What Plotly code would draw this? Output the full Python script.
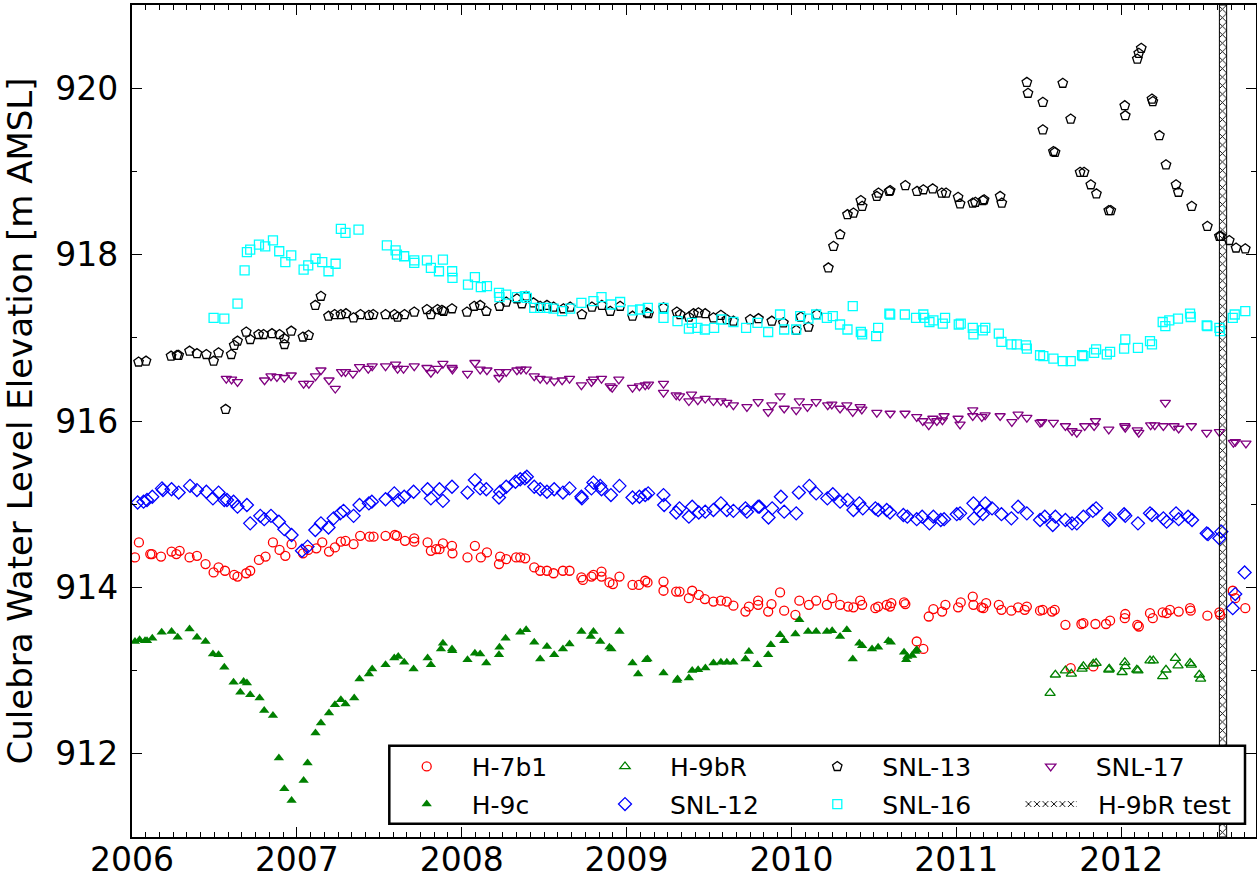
import plotly.graph_objects as go

# Culebra water levels, (decimal year, elevation m AMSL)
H7B1 = [
    (2006.018, 914.36), (2006.042, 914.54), (2006.111, 914.40), (2006.121, 914.40), (2006.176, 914.37),
    (2006.240, 914.43), (2006.269, 914.40), (2006.289, 914.44), (2006.349, 914.36), (2006.394, 914.38),
    (2006.446, 914.28), (2006.495, 914.18), (2006.525, 914.24), (2006.564, 914.20), (2006.620, 914.15),
    (2006.640, 914.13), (2006.693, 914.17), (2006.717, 914.20), (2006.770, 914.33), (2006.810, 914.37),
    (2006.855, 914.54), (2006.895, 914.45), (2006.930, 914.38), (2006.968, 914.52), (2007.037, 914.41),
    (2007.069, 914.45), (2007.118, 914.47), (2007.154, 914.54), (2007.195, 914.43), (2007.231, 914.48),
    (2007.267, 914.55), (2007.295, 914.56), (2007.344, 914.52), (2007.384, 914.62), (2007.441, 914.61),
    (2007.465, 914.61), (2007.538, 914.62), (2007.595, 914.63), (2007.607, 914.62), (2007.656, 914.56),
    (2007.712, 914.59), (2007.712, 914.55), (2007.793, 914.54), (2007.813, 914.44), (2007.845, 914.46),
    (2007.865, 914.46), (2007.886, 914.53), (2007.941, 914.50), (2007.944, 914.41), (2008.035, 914.36),
    (2008.080, 914.50), (2008.116, 914.36), (2008.153, 914.42), (2008.226, 914.28), (2008.233, 914.37),
    (2008.270, 914.34), (2008.330, 914.36), (2008.355, 914.36), (2008.385, 914.35), (2008.440, 914.24),
    (2008.476, 914.20), (2008.517, 914.20), (2008.557, 914.17), (2008.614, 914.20), (2008.654, 914.20),
    (2008.726, 914.12), (2008.735, 914.09), (2008.787, 914.13), (2008.799, 914.15), (2008.848, 914.19),
    (2008.848, 914.13), (2008.896, 914.06), (2008.917, 914.04), (2008.957, 914.13), (2009.036, 914.03),
    (2009.075, 914.03), (2009.113, 914.08), (2009.127, 914.06), (2009.224, 914.07), (2009.224, 913.96),
    (2009.301, 913.95), (2009.321, 913.95), (2009.398, 913.96), (2009.378, 913.87), (2009.438, 913.91),
    (2009.475, 913.86), (2009.527, 913.83), (2009.572, 913.84), (2009.608, 913.83), (2009.648, 913.78),
    (2009.721, 913.71), (2009.742, 913.77), (2009.798, 913.84), (2009.798, 913.79), (2009.859, 913.71),
    (2009.879, 913.80), (2009.931, 913.94), (2009.956, 913.72), (2010.024, 913.67), (2010.048, 913.84),
    (2010.106, 913.79), (2010.150, 913.84), (2010.215, 913.79), (2010.247, 913.87), (2010.295, 913.79),
    (2010.344, 913.77), (2010.376, 913.76), (2010.417, 913.84), (2010.429, 913.79), (2010.509, 913.75),
    (2010.526, 913.77), (2010.578, 913.79), (2010.598, 913.77), (2010.606, 913.81), (2010.683, 913.82),
    (2010.691, 913.80), (2010.760, 913.35), (2010.800, 913.26), (2010.833, 913.65), (2010.861, 913.74),
    (2010.914, 913.71), (2010.934, 913.79), (2011.011, 913.76), (2011.027, 913.82), (2011.100, 913.89),
    (2011.104, 913.79), (2011.152, 913.76), (2011.181, 913.81), (2011.164, 913.75), (2011.258, 913.79),
    (2011.274, 913.73), (2011.334, 913.72), (2011.375, 913.76), (2011.415, 913.73), (2011.428, 913.77),
    (2011.508, 913.72), (2011.524, 913.73), (2011.581, 913.71), (2011.597, 913.73), (2011.662, 913.55),
    (2011.694, 913.03), (2011.759, 913.56), (2011.771, 913.57), (2011.831, 913.05), (2011.844, 913.56),
    (2011.908, 913.56), (2011.933, 913.60), (2012.025, 913.68), (2012.022, 913.63), (2012.098, 913.55),
    (2012.107, 913.53), (2012.175, 913.69), (2012.192, 913.63), (2012.252, 913.70), (2012.276, 913.69),
    (2012.296, 913.73), (2012.349, 913.71), (2012.418, 913.75), (2012.422, 913.72), (2012.523, 913.66),
    (2012.596, 913.70), (2012.600, 913.67), (2012.677, 913.96), (2012.692, 913.87), (2012.753, 913.75),
]

H9C = [
    (2006.018, 913.35), (2006.046, 913.37), (2006.079, 913.36), (2006.091, 913.36), (2006.123, 913.39),
    (2006.180, 913.46), (2006.240, 913.47), (2006.277, 913.40), (2006.349, 913.50), (2006.394, 913.40),
    (2006.446, 913.35), (2006.491, 913.20), (2006.525, 913.19), (2006.560, 913.04), (2006.616, 912.86),
    (2006.657, 912.74), (2006.677, 912.87), (2006.697, 912.85), (2006.717, 912.71), (2006.774, 912.67),
    (2006.802, 912.52), (2006.855, 912.46), (2006.891, 911.95), (2006.924, 911.58), (2006.968, 911.44),
    (2007.041, 911.68), (2007.065, 911.89), (2007.113, 912.25), (2007.146, 912.37), (2007.195, 912.49),
    (2007.231, 912.59), (2007.267, 912.65), (2007.295, 912.60), (2007.348, 912.67), (2007.380, 912.90),
    (2007.437, 912.96), (2007.457, 913.02), (2007.538, 913.07), (2007.591, 913.15), (2007.615, 913.17),
    (2007.651, 913.10), (2007.708, 913.02), (2007.793, 913.15), (2007.813, 913.07), (2007.874, 913.26),
    (2007.886, 913.33), (2007.941, 913.26), (2007.943, 913.24), (2008.035, 913.13), (2008.080, 913.21),
    (2008.112, 913.20), (2008.149, 913.09), (2008.226, 913.19), (2008.229, 913.28), (2008.266, 913.39),
    (2008.355, 913.46), (2008.391, 913.49), (2008.440, 913.34), (2008.476, 913.14), (2008.517, 913.29),
    (2008.561, 913.19), (2008.614, 913.26), (2008.654, 913.32), (2008.726, 913.47), (2008.783, 913.41),
    (2008.799, 913.47), (2008.840, 913.35), (2008.896, 913.28), (2008.908, 913.26), (2008.957, 913.47),
    (2009.036, 913.09), (2009.070, 912.96), (2009.119, 913.13), (2009.127, 913.14), (2009.224, 912.97),
    (2009.305, 912.88), (2009.309, 912.90), (2009.378, 912.91), (2009.398, 913.00), (2009.434, 913.01),
    (2009.478, 913.03), (2009.527, 913.09), (2009.572, 913.10), (2009.608, 913.10), (2009.648, 913.10),
    (2009.721, 913.14), (2009.742, 913.23), (2009.794, 913.07), (2009.859, 913.19), (2009.875, 913.31),
    (2009.931, 913.43), (2009.956, 913.36), (2010.024, 913.44), (2010.048, 913.61), (2010.101, 913.47),
    (2010.150, 913.47), (2010.215, 913.47), (2010.247, 913.48), (2010.295, 913.41), (2010.336, 913.49),
    (2010.372, 913.14), (2010.412, 913.33), (2010.429, 913.30), (2010.489, 913.26), (2010.526, 913.28),
    (2010.588, 913.36), (2010.603, 913.34), (2010.683, 913.22), (2010.696, 913.13), (2010.703, 913.17),
    (2010.732, 913.18), (2010.752, 913.23), (2010.760, 913.25),
]

H9BR = [
    (2011.569, 912.73), (2011.601, 912.95), (2011.662, 913.00), (2011.698, 912.96), (2011.763, 913.02),
    (2011.771, 913.05), (2011.831, 913.08), (2011.848, 913.09), (2011.925, 913.01), (2011.928, 913.02),
    (2012.006, 912.98), (2012.022, 913.10), (2012.025, 913.05), (2012.095, 913.01), (2012.102, 913.00),
    (2012.175, 913.12), (2012.195, 913.12), (2012.252, 912.93), (2012.272, 913.01), (2012.329, 913.15),
    (2012.345, 913.06), (2012.418, 913.09), (2012.426, 913.07), (2012.474, 912.95), (2012.482, 912.90),
]

SNL12 = [
    (2006.034, 915.02), (2006.070, 915.03), (2006.091, 915.05), (2006.123, 915.09), (2006.182, 915.19),
    (2006.188, 915.17), (2006.240, 915.18), (2006.283, 915.14), (2006.352, 915.22), (2006.394, 915.17),
    (2006.451, 915.15), (2006.491, 915.07), (2006.525, 915.14), (2006.560, 915.05), (2006.576, 915.05),
    (2006.616, 915.03), (2006.640, 914.97), (2006.697, 914.99), (2006.717, 914.77), (2006.778, 914.86),
    (2006.802, 914.82), (2006.843, 914.86), (2006.891, 914.79), (2006.924, 914.70), (2006.968, 914.63),
    (2007.031, 914.44), (2007.065, 914.49), (2007.112, 914.69), (2007.146, 914.77), (2007.192, 914.72),
    (2007.223, 914.83), (2007.263, 914.89), (2007.283, 914.92), (2007.344, 914.86), (2007.380, 914.99),
    (2007.437, 915.01), (2007.455, 915.03), (2007.538, 915.06), (2007.591, 915.13), (2007.615, 915.05),
    (2007.651, 915.09), (2007.708, 915.15), (2007.793, 915.18), (2007.813, 915.07), (2007.865, 915.18),
    (2007.886, 915.04), (2007.941, 915.21), (2008.035, 915.14), (2008.080, 915.29), (2008.112, 915.19),
    (2008.149, 915.18), (2008.226, 915.08), (2008.233, 915.15), (2008.270, 915.21), (2008.326, 915.27),
    (2008.355, 915.30), (2008.383, 915.31), (2008.395, 915.33), (2008.440, 915.21), (2008.476, 915.18),
    (2008.517, 915.15), (2008.561, 915.18), (2008.614, 915.14), (2008.654, 915.19), (2008.726, 915.09),
    (2008.729, 915.07), (2008.787, 915.19), (2008.799, 915.26), (2008.840, 915.22), (2008.848, 915.18),
    (2008.905, 915.11), (2008.957, 915.22), (2009.036, 915.08), (2009.078, 915.09), (2009.113, 915.11),
    (2009.131, 915.13), (2009.224, 915.11), (2009.228, 914.99), (2009.301, 914.90), (2009.321, 914.95),
    (2009.378, 914.85), (2009.398, 914.97), (2009.438, 914.90), (2009.477, 914.91), (2009.527, 914.93),
    (2009.572, 915.01), (2009.608, 914.93), (2009.648, 914.92), (2009.721, 914.95), (2009.730, 914.91),
    (2009.798, 914.97), (2009.806, 914.97), (2009.861, 914.84), (2009.883, 914.95), (2009.936, 915.09),
    (2009.956, 914.91), (2010.029, 914.89), (2010.045, 915.14), (2010.109, 915.22), (2010.150, 915.13),
    (2010.218, 915.07), (2010.251, 915.12), (2010.295, 915.03), (2010.340, 915.05), (2010.376, 914.93),
    (2010.412, 915.01), (2010.433, 914.95), (2010.509, 914.95), (2010.526, 914.93), (2010.578, 914.93),
    (2010.598, 914.90), (2010.679, 914.87), (2010.703, 914.85), (2010.760, 914.82), (2010.793, 914.85),
    (2010.837, 914.77), (2010.861, 914.85), (2010.906, 914.81), (2010.926, 914.82), (2011.003, 914.88),
    (2011.023, 914.89), (2011.104, 915.01), (2011.108, 914.83), (2011.144, 914.92), (2011.176, 915.01),
    (2011.161, 914.88), (2011.217, 914.95), (2011.274, 914.88), (2011.334, 914.83), (2011.375, 914.97),
    (2011.428, 914.89), (2011.508, 914.81), (2011.537, 914.85), (2011.585, 914.75), (2011.601, 914.85),
    (2011.662, 914.81), (2011.702, 914.77), (2011.731, 914.77), (2011.771, 914.85), (2011.828, 914.92),
    (2011.848, 914.95), (2011.925, 914.81), (2011.933, 914.83), (2012.018, 914.88), (2012.025, 914.86),
    (2012.102, 914.77), (2012.175, 914.89), (2012.187, 914.87), (2012.256, 914.83), (2012.276, 914.79),
    (2012.333, 914.89), (2012.349, 914.82), (2012.406, 914.85), (2012.430, 914.81), (2012.519, 914.65),
    (2012.527, 914.64), (2012.596, 914.59), (2012.608, 914.67), (2012.677, 913.75), (2012.692, 913.92),
    (2012.749, 914.18),
]

SNL13 = [
    (2006.040, 916.71), (2006.085, 916.72), (2006.237, 916.78), (2006.273, 916.79), (2006.283, 916.79),
    (2006.349, 916.84), (2006.394, 916.81), (2006.451, 916.80), (2006.495, 916.72), (2006.525, 916.82),
    (2006.568, 916.14), (2006.602, 916.80), (2006.620, 916.91), (2006.640, 916.96), (2006.693, 917.07),
    (2006.717, 916.98), (2006.768, 917.04), (2006.798, 917.04), (2006.849, 917.05), (2006.895, 917.04),
    (2006.924, 916.99), (2006.925, 916.92), (2006.966, 917.08), (2007.037, 917.01), (2007.071, 917.03),
    (2007.112, 917.39), (2007.146, 917.50), (2007.192, 917.26), (2007.229, 917.28), (2007.267, 917.28),
    (2007.298, 917.29), (2007.344, 917.24), (2007.386, 917.28), (2007.437, 917.27), (2007.463, 917.28),
    (2007.538, 917.28), (2007.592, 917.28), (2007.611, 917.25), (2007.653, 917.28), (2007.712, 917.31),
    (2007.789, 917.34), (2007.813, 917.28), (2007.853, 917.34), (2007.880, 917.33), (2007.890, 917.32),
    (2007.941, 917.35), (2008.032, 917.31), (2008.076, 917.38), (2008.112, 917.39), (2008.149, 917.32),
    (2008.229, 917.38), (2008.270, 917.43), (2008.335, 917.47), (2008.365, 917.41), (2008.391, 917.50),
    (2008.435, 917.42), (2008.476, 917.38), (2008.517, 917.39), (2008.557, 917.37), (2008.617, 917.35),
    (2008.658, 917.37), (2008.729, 917.28), (2008.790, 917.37), (2008.850, 917.39), (2008.901, 917.32),
    (2008.961, 917.38), (2009.036, 917.26), (2009.123, 917.30), (2009.133, 917.29), (2009.224, 917.36),
    (2009.305, 917.31), (2009.325, 917.28), (2009.378, 917.25), (2009.406, 917.29), (2009.436, 917.30),
    (2009.477, 917.29), (2009.527, 917.24), (2009.572, 917.27), (2009.608, 917.22), (2009.648, 917.20),
    (2009.750, 917.22), (2009.800, 917.23), (2009.881, 917.20), (2009.951, 917.18), (2010.029, 917.09),
    (2010.057, 917.25), (2010.103, 917.13), (2010.154, 917.28), (2010.224, 917.84), (2010.255, 918.10),
    (2010.295, 918.24), (2010.340, 918.48), (2010.376, 918.50), (2010.421, 918.65), (2010.429, 918.58),
    (2010.518, 918.70), (2010.528, 918.74), (2010.593, 918.76), (2010.599, 918.77), (2010.691, 918.83),
    (2010.762, 918.76), (2010.800, 918.78), (2010.857, 918.79), (2010.912, 918.74), (2010.938, 918.74),
    (2011.011, 918.69), (2011.023, 918.61), (2011.100, 918.62), (2011.116, 918.63), (2011.161, 918.65),
    (2011.169, 918.66), (2011.266, 918.70), (2011.276, 918.62), (2011.428, 920.07), (2011.435, 919.94),
    (2011.525, 919.83), (2011.525, 919.50), (2011.589, 919.24), (2011.599, 919.23), (2011.646, 920.06),
    (2011.694, 919.63), (2011.751, 918.99), (2011.775, 918.99), (2011.816, 918.84), (2011.850, 918.73),
    (2011.925, 918.53), (2011.937, 918.53), (2012.022, 919.79), (2012.025, 919.67), (2012.098, 920.35),
    (2012.107, 920.42), (2012.122, 920.48), (2012.187, 919.87), (2012.192, 919.84), (2012.232, 919.43),
    (2012.272, 919.08), (2012.333, 918.84), (2012.347, 918.75), (2012.428, 918.58), (2012.523, 918.34),
    (2012.596, 918.22), (2012.604, 918.22), (2012.656, 918.17), (2012.697, 918.08), (2012.753, 918.07),
]

SNL16 = [
    (2006.495, 917.24), (2006.560, 917.23), (2006.640, 917.41), (2006.683, 917.81), (2006.697, 918.03),
    (2006.717, 918.06), (2006.770, 918.12), (2006.808, 918.10), (2006.855, 918.17), (2006.893, 918.04),
    (2006.930, 917.91), (2006.966, 917.99), (2007.041, 917.82), (2007.069, 917.87), (2007.113, 917.95),
    (2007.154, 917.91), (2007.192, 917.80), (2007.235, 917.89), (2007.267, 918.31), (2007.295, 918.26),
    (2007.374, 918.30), (2007.546, 918.11), (2007.599, 918.05), (2007.607, 918.00), (2007.651, 917.98),
    (2007.712, 917.93), (2007.712, 917.90), (2007.789, 917.93), (2007.813, 917.84), (2007.862, 917.80),
    (2007.886, 917.94), (2007.942, 917.80), (2007.944, 917.72), (2008.038, 917.64), (2008.080, 917.73),
    (2008.116, 917.61), (2008.153, 917.62), (2008.226, 917.54), (2008.229, 917.49), (2008.270, 917.52),
    (2008.335, 917.49), (2008.383, 917.50), (2008.395, 917.48), (2008.440, 917.36), (2008.476, 917.36),
    (2008.517, 917.36), (2008.557, 917.35), (2008.609, 917.32), (2008.658, 917.35), (2008.726, 917.42),
    (2008.799, 917.44), (2008.848, 917.49), (2008.907, 917.40), (2008.961, 917.43), (2009.036, 917.33),
    (2009.082, 917.34), (2009.129, 917.36), (2009.224, 917.36), (2009.224, 917.24), (2009.309, 917.20),
    (2009.378, 917.11), (2009.396, 917.18), (2009.430, 917.12), (2009.475, 917.10), (2009.531, 917.12),
    (2009.575, 917.22), (2009.648, 917.19), (2009.725, 917.12), (2009.794, 917.18), (2009.859, 917.07),
    (2009.931, 917.28), (2009.956, 917.10), (2010.029, 917.10), (2010.053, 917.26), (2010.103, 917.23),
    (2010.150, 917.28), (2010.215, 917.24), (2010.251, 917.26), (2010.295, 917.16), (2010.340, 917.10),
    (2010.372, 917.38), (2010.421, 917.07), (2010.429, 917.04), (2010.514, 917.02), (2010.526, 917.12),
    (2010.594, 917.29), (2010.599, 917.28), (2010.688, 917.28), (2010.756, 917.24), (2010.800, 917.28),
    (2010.805, 917.24), (2010.837, 917.19), (2010.861, 917.21), (2010.918, 917.17), (2010.932, 917.24),
    (2011.015, 917.16), (2011.027, 917.17), (2011.100, 917.12), (2011.104, 917.04), (2011.161, 917.09),
    (2011.176, 917.12), (2011.258, 917.05), (2011.274, 916.95), (2011.334, 916.92), (2011.367, 916.92),
    (2011.423, 916.91), (2011.428, 916.87), (2011.508, 916.79), (2011.528, 916.78), (2011.589, 916.75),
    (2011.646, 916.72), (2011.694, 916.72), (2011.763, 916.79), (2011.771, 916.78), (2011.836, 916.82),
    (2011.848, 916.86), (2011.913, 916.80), (2011.933, 916.83), (2012.018, 916.87), (2012.025, 916.98),
    (2012.102, 916.88), (2012.175, 916.96), (2012.187, 916.92), (2012.252, 917.19), (2012.268, 917.14),
    (2012.292, 917.21), (2012.345, 917.23), (2012.418, 917.29), (2012.422, 917.25), (2012.519, 917.15),
    (2012.523, 917.14), (2012.596, 917.12), (2012.600, 917.08), (2012.677, 917.24), (2012.689, 917.28),
    (2012.753, 917.32),
]

SNL17 = [
    (2006.572, 916.51), (2006.604, 916.50), (2006.640, 916.47), (2006.804, 916.49), (2006.843, 916.54),
    (2006.879, 916.53), (2006.924, 916.52), (2006.966, 916.55), (2007.041, 916.45), (2007.073, 916.45),
    (2007.113, 916.54), (2007.146, 916.61), (2007.195, 916.49), (2007.233, 916.39), (2007.271, 916.59),
    (2007.295, 916.59), (2007.340, 916.57), (2007.380, 916.65), (2007.433, 916.63), (2007.457, 916.66),
    (2007.538, 916.66), (2007.599, 916.68), (2007.611, 916.63), (2007.647, 916.63), (2007.712, 916.66),
    (2007.789, 916.64), (2007.813, 916.58), (2007.853, 916.63), (2007.886, 916.69), (2007.941, 916.64),
    (2007.944, 916.62), (2008.035, 916.57), (2008.080, 916.70), (2008.112, 916.62), (2008.153, 916.61),
    (2008.226, 916.52), (2008.229, 916.59), (2008.270, 916.59), (2008.335, 916.61), (2008.359, 916.62),
    (2008.391, 916.62), (2008.440, 916.54), (2008.476, 916.51), (2008.517, 916.50), (2008.561, 916.48),
    (2008.609, 916.49), (2008.654, 916.51), (2008.726, 916.43), (2008.787, 916.47), (2008.799, 916.50),
    (2008.848, 916.51), (2008.901, 916.42), (2008.913, 916.40), (2008.953, 916.50), (2009.036, 916.40),
    (2009.078, 916.42), (2009.113, 916.43), (2009.133, 916.44), (2009.224, 916.45), (2009.224, 916.34),
    (2009.301, 916.31), (2009.321, 916.30), (2009.394, 916.32), (2009.378, 916.24), (2009.432, 916.25),
    (2009.477, 916.27), (2009.527, 916.24), (2009.572, 916.24), (2009.608, 916.22), (2009.648, 916.19),
    (2009.730, 916.17), (2009.798, 916.23), (2009.859, 916.11), (2009.881, 916.19), (2009.931, 916.30),
    (2009.956, 916.15), (2010.029, 916.13), (2010.048, 916.24), (2010.097, 916.17), (2010.150, 916.23),
    (2010.220, 916.19), (2010.245, 916.20), (2010.295, 916.15), (2010.336, 916.19), (2010.372, 916.11),
    (2010.417, 916.17), (2010.427, 916.14), (2010.518, 916.10), (2010.599, 916.09), (2010.689, 916.09),
    (2010.760, 916.05), (2010.797, 916.00), (2010.833, 915.95), (2010.858, 916.03), (2010.882, 916.00),
    (2010.926, 916.06), (2010.916, 916.01), (2011.011, 916.03), (2011.023, 915.96), (2011.100, 916.13),
    (2011.100, 916.06), (2011.155, 916.05), (2011.175, 916.07), (2011.266, 916.06), (2011.337, 915.99),
    (2011.375, 916.08), (2011.428, 916.04), (2011.508, 915.98), (2011.519, 915.99), (2011.589, 915.98),
    (2011.662, 915.94), (2011.702, 915.88), (2011.731, 915.86), (2011.779, 915.94), (2011.836, 915.94),
    (2011.844, 916.00), (2011.925, 915.90), (2012.022, 915.94), (2012.025, 915.92), (2012.098, 915.89),
    (2012.107, 915.86), (2012.179, 915.95), (2012.204, 915.95), (2012.256, 915.94), (2012.268, 916.22),
    (2012.321, 915.94), (2012.349, 915.91), (2012.426, 915.94), (2012.519, 915.86), (2012.596, 915.87),
    (2012.681, 915.74), (2012.693, 915.75), (2012.757, 915.73),
]

# H-9bR pumping test window (decimal year)
TEST_START = 2012.596
TEST_END = 2012.640

X_RANGE = [2006.0, 2012.818]
Y_RANGE = [911.0, 921.0]
YEAR_TICKS = [2006, 2007, 2008, 2009, 2010, 2011, 2012]
ELEV_TICKS = [912, 914, 916, 918, 920]

FONT = "DejaVu Sans"


def unzip(pairs):
    return [p[0] for p in pairs], [p[1] for p in pairs]


def open_marker(symbol, color, size):
    return dict(symbol=symbol, size=size, color="rgba(0,0,0,0)",
                line=dict(color=color, width=1.3))


fig = go.Figure()

# hatched band for the test period
fig.add_trace(go.Scatter(
    x=[TEST_START, TEST_END, TEST_END, TEST_START, TEST_START],
    y=[Y_RANGE[0], Y_RANGE[0], Y_RANGE[1], Y_RANGE[1], Y_RANGE[0]],
    mode="none", fill="toself", fillcolor="white",
    fillpattern=dict(shape="x", fgcolor="black", fgopacity=1, bgcolor="white",
                     size=6, solidity=0.28),
    name="\u00a0\u00a0H-9bR test", legend="legend8", hoverinfo="skip",
))

series = [
    ("H-7b1", H7B1, open_marker("circle", "#ff0000", 9), "legend"),
    ("H-9c", H9C, dict(symbol="triangle-up", size=9, color="#008000", line=dict(width=0)), "legend2"),
    ("H-9bR", H9BR, open_marker("triangle-up", "#008000", 9), "legend3"),
    ("SNL-12", SNL12, open_marker("diamond", "#0000ff", 10), "legend4"),
    ("SNL-13", SNL13, open_marker("pentagon", "#000000", 10), "legend5"),
    ("SNL-16", SNL16, open_marker("square", "#00ffff", 9), "legend6"),
    ("SNL-17", SNL17, open_marker("triangle-down", "#800080", 9), "legend7"),
]
for name, pairs, marker, leg in series:
    t, v = unzip(pairs)
    fig.add_trace(go.Scatter(x=t, y=v, mode="markers", name=name, marker=marker,
                             legend=leg, cliponaxis=True))

# plot area in pixels: left 132, right 1256, top 5, bottom 837
PL, PR, PT, PB = 132, 1256, 5, 837
PW, PH = PR - PL, PB - PT


def px_x(p):
    return (p - PL) / PW


def px_y(p):
    return (PB - p) / PH


row_y = [766.7, 804.3]
col_left = [381.7, 580.0, 792.3, 1005.7]
legend_slots = {
    "legend": (col_left[0], row_y[0], 80),
    "legend2": (col_left[0], row_y[1], 80),
    "legend3": (col_left[1], row_y[0], 80),
    "legend4": (col_left[1], row_y[1], 80),
    "legend5": (col_left[2], row_y[0], 80),
    "legend6": (col_left[2], row_y[1], 80),
    "legend7": (col_left[3], row_y[0], 80),
    "legend8": (1020.0, row_y[1], 52),
}
legend_layout = {}
for key, (lx, ly, iw) in legend_slots.items():
    legend_layout[key] = dict(
        x=px_x(lx), y=px_y(ly), xanchor="left", yanchor="middle",
        bgcolor="rgba(0,0,0,0)", borderwidth=0, itemwidth=iw,
        font=dict(family=FONT, size=25, color="black"),
        orientation="v",
    )

axis_common = dict(
    showgrid=False, zeroline=False, showline=True, linecolor="black", linewidth=2.2,
    mirror="allticks", ticks="inside", ticklen=10, tickwidth=1.3, tickcolor="black",
    tickfont=dict(family=FONT, size=33, color="black"), automargin=False,
)

fig.update_layout(
    width=1257, height=880,
    margin=dict(l=PL, r=1257 - PR, t=PT, b=880 - PB, autoexpand=False),
    paper_bgcolor="white", plot_bgcolor="white",
    showlegend=True,
    xaxis=dict(range=X_RANGE, tickvals=YEAR_TICKS, ticktext=[str(y) for y in YEAR_TICKS],
               minor=dict(dtick=1 / 12, tick0=2006, ticks="inside", ticklen=5, tickwidth=1.1,
                          tickcolor="black"),
               ticklabelstandoff=-8, **axis_common),
    yaxis=dict(range=Y_RANGE, tickvals=ELEV_TICKS, ticktext=[str(y) for y in ELEV_TICKS],
               minor=dict(dtick=1, tick0=911, ticks="inside", ticklen=5, tickwidth=1.1,
                          tickcolor="black"),
               ticklabelstandoff=5,
               title=dict(text="Culebra Water Level Elevation [m AMSL]",
                          font=dict(family=FONT, size=34, color="black"), standoff=14),
               **axis_common),
    shapes=[
        dict(type="rect", xref="x", yref="paper", x0=TEST_START, x1=TEST_END, y0=0, y1=1,
             line=dict(color="black", width=1), fillcolor="rgba(0,0,0,0)", layer="above"),
        dict(type="rect", xref="paper", yref="paper",
             x0=px_x(389.3), x1=px_x(1245.0), y0=px_y(823.7), y1=px_y(745.7),
             line=dict(color="black", width=2.5), fillcolor="white", layer="above"),
    ],
    **legend_layout,
)

fig.write_html("out.html")
